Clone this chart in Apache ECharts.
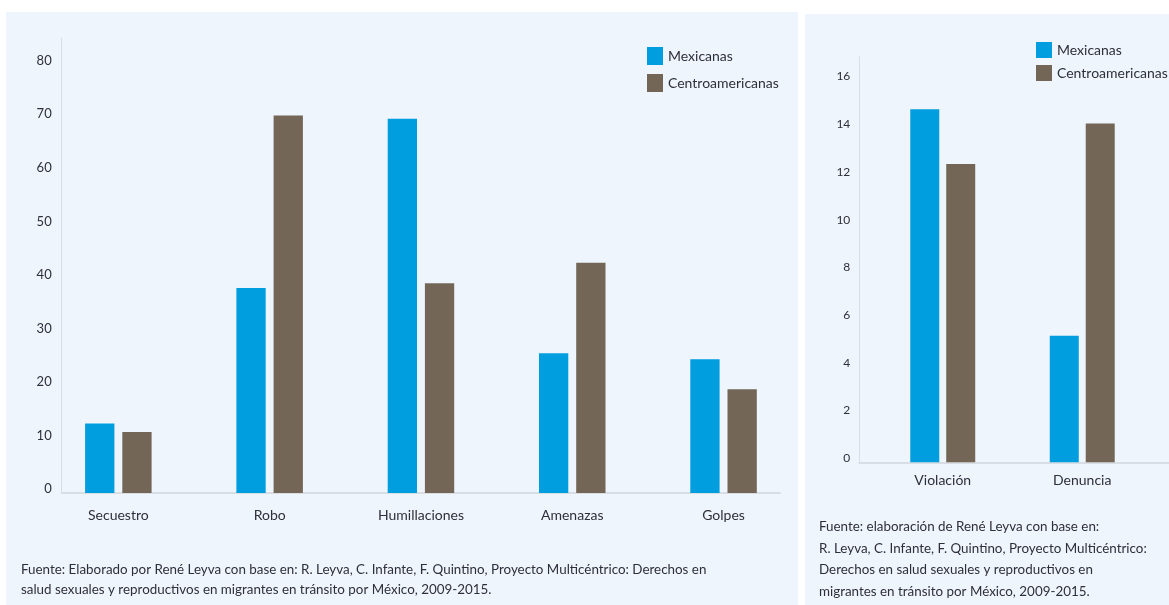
<!DOCTYPE html>
<html>
<head>
<meta charset="utf-8">
<script src="https://cdn.jsdelivr.net/npm/echarts@6/dist/echarts.min.js"></script>
<style>
html,body{margin:0;padding:0;background:#ffffff;}
#main{width:1169px;height:605px;}
</style>
</head>
<body>
<div id="main"></div>
<script>
// ---- data ----
var seriesNames = ['Mexicanas', 'Centroamericanas'];
var leftCategories = ['Secuestro', 'Robo', 'Humillaciones', 'Amenazas', 'Golpes'];
var leftMexicanas = [13.0, 38.3, 69.9, 26.1, 25.0];
var leftCentroamericanas = [11.4, 70.5, 39.2, 43.0, 19.4];
var rightCategories = ['Violación', 'Denuncia'];
var rightMexicanas = [14.8, 5.3];
var rightCentroamericanas = [12.5, 14.2];
var leftSource = 'Fuente: Elaborado por René Leyva con base en: R. Leyva, C. Infante, F. Quintino, Proyecto Multicéntrico: Derechos en\nsalud sexuales y reproductivos en migrantes en tránsito por México, 2009-2015.';
var rightSource = 'Fuente: elaboración de René Leyva con base en:\nR. Leyva, C. Infante, F. Quintino, Proyecto Multicéntrico:\nDerechos en salud sexuales y reproductivos en\nmigrantes en tránsito por México, 2009-2015.';

var BLUE = '#009ddf';
var BROWN = '#736656';
var TXT = '#2f2f36';
var AXIS = '#d9dee4';
var FONT = 'Lato';

var chart = echarts.init(document.getElementById('main'), null, {renderer: 'canvas'});

var option = {
  animation: false,
  textStyle: {fontFamily: FONT},
  graphic: [
    {type: 'rect', z: -10, shape: {x: 6, y: 12, width: 792, height: 593}, style: {fill: '#eff5fd'}},
    {type: 'rect', z: -10, shape: {x: 805, y: 14, width: 364, height: 591}, style: {fill: '#eff5fd'}}
  ],
  title: [
    {text: leftSource, left: 21, top: 560, padding: 0,
     textStyle: {fontFamily: FONT, fontSize: 13.4, fontWeight: 'normal', color: TXT, lineHeight: 20}},
    {text: rightSource, left: 819, top: 516, padding: 0,
     textStyle: {fontFamily: FONT, fontSize: 13.4, fontWeight: 'normal', color: TXT, lineHeight: 21.5}}
  ],
  legend: [
    {data: seriesNames, orient: 'vertical', left: 647, top: 47, padding: 0,
     itemWidth: 16, itemHeight: 18, itemGap: 9, icon: 'rect',
     textStyle: {fontFamily: FONT, fontSize: 14, color: TXT}},
    {data: seriesNames, orient: 'vertical', left: 1036, top: 42, padding: 0,
     itemWidth: 16, itemHeight: 16, itemGap: 7, icon: 'rect',
     textStyle: {fontFamily: FONT, fontSize: 14, color: TXT}}
  ],
  grid: [
    // 0: left bars
    {left: 42.7, top: 38, width: 756.5, height: 455},
    // 1: left axes
    {left: 61.7, top: 38, width: 718.3, height: 455},
    // 2: right bars
    {left: 873, top: 56.7, width: 279, height: 405.6},
    // 3: right axes
    {left: 859.3, top: 56.7, width: 320, height: 405.6}
  ],
  xAxis: [
    {type: 'category', gridIndex: 0, data: leftCategories,
     axisLine: {show: false}, axisTick: {show: false},
     axisLabel: {margin: 15, fontSize: 14, color: TXT, fontFamily: FONT}},
    {type: 'value', gridIndex: 1, min: 0, max: 1,
     axisLine: {show: true, lineStyle: {color: AXIS, width: 2}},
     axisTick: {show: false}, axisLabel: {show: false}, splitLine: {show: false}},
    {type: 'category', gridIndex: 2, data: rightCategories,
     axisLine: {show: false}, axisTick: {show: false},
     axisLabel: {margin: 11, fontSize: 14, color: TXT, fontFamily: FONT}},
    {type: 'value', gridIndex: 3, min: 0, max: 1,
     axisLine: {show: true, lineStyle: {color: AXIS, width: 2}},
     axisTick: {show: false}, axisLabel: {show: false}, splitLine: {show: false}}
  ],
  yAxis: [
    {type: 'value', gridIndex: 0, min: 0, max: 85, show: false, splitLine: {show: false}},
    {type: 'value', gridIndex: 1, min: 0, max: 85, interval: 10,
     axisLine: {show: true, lineStyle: {color: AXIS, width: 1}},
     axisTick: {show: false}, splitLine: {show: false},
     axisLabel: {showMaxLabel: false, margin: 10, fontSize: 13, color: TXT, fontFamily: FONT,
                 verticalAlign: 'bottom', lineHeight: 8}},
    {type: 'value', gridIndex: 2, min: 0, max: 17, show: false, splitLine: {show: false}},
    {type: 'value', gridIndex: 3, min: 0, max: 17, interval: 2,
     axisLine: {show: true, lineStyle: {color: AXIS, width: 1}},
     axisTick: {show: false}, splitLine: {show: false},
     axisLabel: {showMaxLabel: false, margin: 9, fontSize: 12, color: TXT, fontFamily: FONT,
                 verticalAlign: 'bottom', lineHeight: 8}}
  ],
  series: [
    {name: seriesNames[0], type: 'bar', xAxisIndex: 0, yAxisIndex: 0, data: leftMexicanas,
     barWidth: 29.3, barGap: '27%', itemStyle: {color: BLUE}},
    {name: seriesNames[1], type: 'bar', xAxisIndex: 0, yAxisIndex: 0, data: leftCentroamericanas,
     barWidth: 29.3, barGap: '27%', itemStyle: {color: BROWN}},
    {name: seriesNames[0], type: 'bar', xAxisIndex: 2, yAxisIndex: 2, data: rightMexicanas,
     barWidth: 29, barGap: '24%', itemStyle: {color: BLUE}},
    {name: seriesNames[1], type: 'bar', xAxisIndex: 2, yAxisIndex: 2, data: rightCentroamericanas,
     barWidth: 29, barGap: '24%', itemStyle: {color: BROWN}}
  ]
};
chart.setOption(option);
</script>
</body>
</html>
